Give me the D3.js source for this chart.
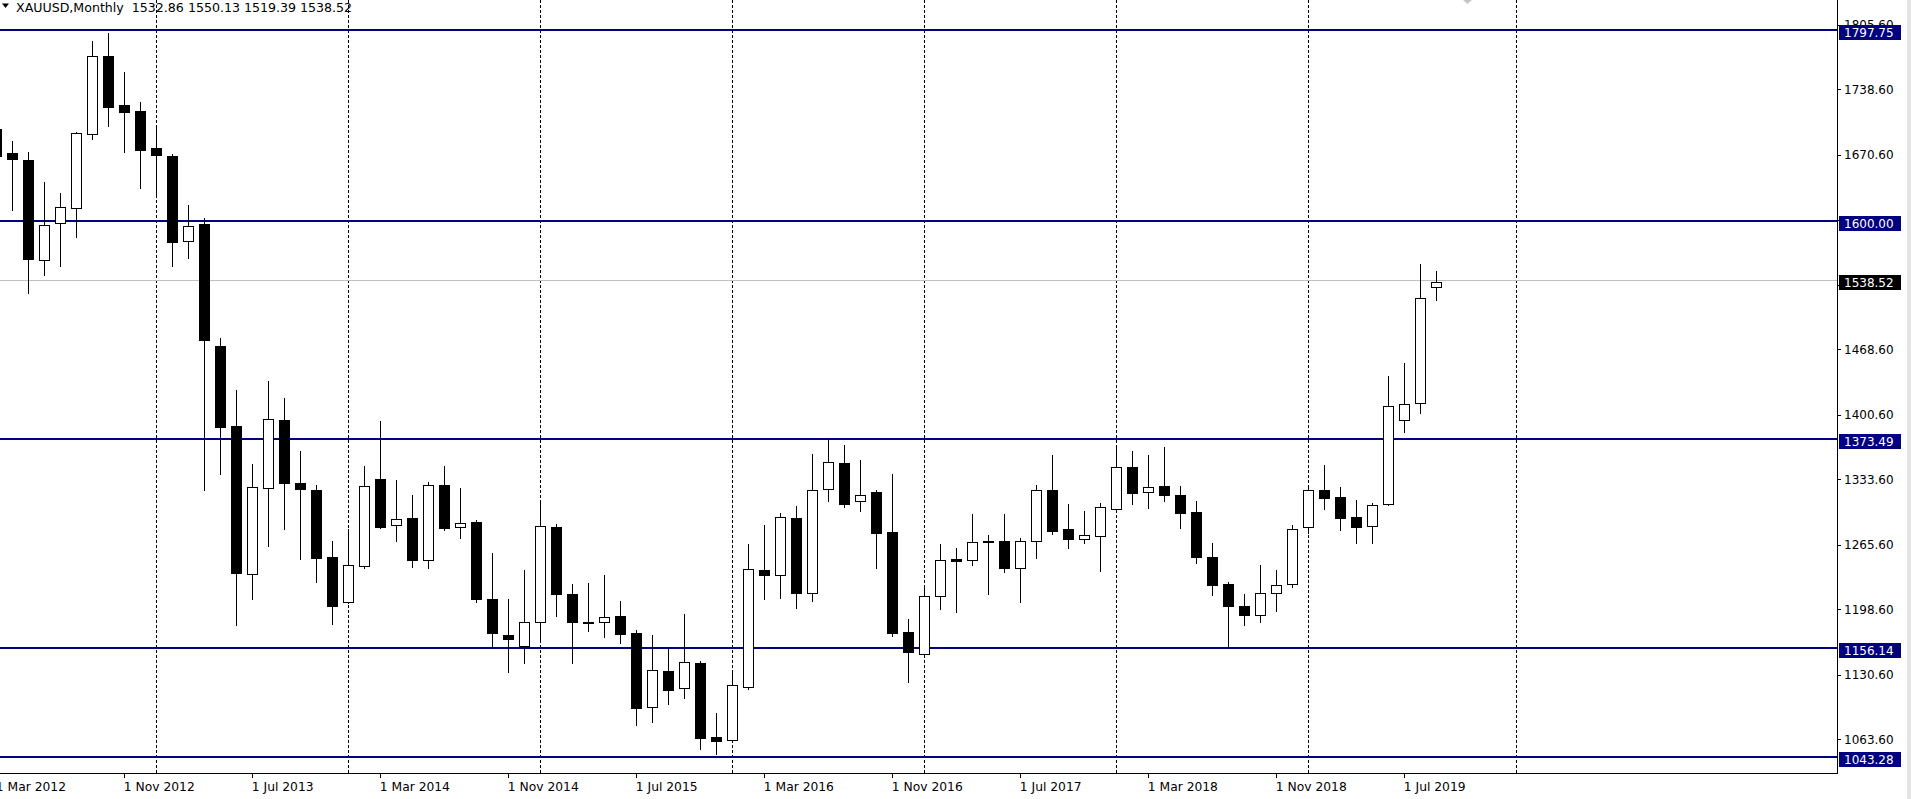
<!DOCTYPE html>
<html>
<head>
<meta charset="utf-8">
<script src="https://cdn.jsdelivr.net/npm/d3@7"></script>
<style>
  html, body { margin: 0; padding: 0; background: #ffffff; overflow: hidden; }
  svg { display: block; }
  text { font-family: "DejaVu Sans", Verdana, sans-serif; font-size: 12px; fill: #000; white-space: pre; }
</style>
</head>
<body>
<svg id="chart" width="1911" height="799"></svg>
<script>
// ---- DATA (XAUUSD monthly, Mar 2012 .. Sep 2019) ----
const symbolTitle = "XAUUSD,Monthly";
const startMonth = new Date(2012, 2, 1);
const open  = [1697,1672,1665,1561,1600,1615,1692,1773,1722,1716,1678,1669,1581,1599,1472,1389,1235,1325,1395,1330,
               1323,1253,1206,1244,1334,1286,1293,1250,1328,1284,1289,1209,1172,1160,1185,1284,1215,1185.5,1185,1192,
               1174,1097,1135,1117,1143,1066,1063,1118,1239,1234,1293,1216,1324,1351,1311,1320,1279,1175,1152,1212,
               1250.5,1250,1270,1270,1242,1270,1323,1282,1272,1275,1303,1346,1320,1327,1317,1300,1253,1225,1202,1193,
               1216,1225,1284,1322,1315,1294,1285,1308,1395,1413,1532.86];
const high  = [1715,1685,1673,1642,1631,1694,1789,1797,1757,1725,1699,1671,1618,1605,1480,1426,1350,1436,1418,1363,
               1328,1270,1282,1347,1394,1333,1317,1331,1347,1325,1291,1257,1209,1239,1309,1287,1225,1226,1234,1207,
               1177,1172,1157,1194,1145,1091,1132,1266,1286,1299,1306,1360,1375,1369,1354,1322,1339,1189,1221,1266,
               1262,1298,1276,1298,1273,1328,1359,1308,1301,1309,1369,1363,1359,1367,1327,1311,1267,1227,1215,1245,
               1239,1286,1327,1348,1326,1312,1309,1441,1454,1557,1550.13];
const low   = [1627,1613,1527,1546,1555,1585,1687,1700,1673,1636,1627,1555,1563,1322,1339,1182,1209,1264,1282,1251,
               1227,1183,1205,1242,1283,1270,1243,1242,1281,1273,1206,1160,1133,1143,1167,1192,1143,1176,1170,1164,
               1078,1082,1100,1106,1054,1048,1062,1116,1209,1210,1200,1207,1311,1305,1301,1242,1171,1123,1151,1199,
               1196,1245,1215,1237,1206,1252,1277,1262,1267,1238,1302,1308,1304,1311,1283,1247,1213,1161,1182,1185,
               1197,1222,1278,1303,1281,1267,1267,1307,1383,1402,1519.39];
const close = [1669,1666,1562,1598,1616,1693,1773,1720,1715,1676,1670,1580,1597,1478,1388,1236,1326,1396,1330,1324,
               1252,1202,1245,1327,1284,1292,1250,1328,1283,1288,1209,1174,1168,1185,1285,1214,1185,1184,1191,1173,
               1096,1136,1115,1144,1065,1062,1120,1240,1234,1294,1216,1323,1352,1308,1317,1278,1174,1154,1212,1250,
               1249,1269,1269,1242,1270,1322,1280,1272,1276,1305,1346,1319,1326,1317,1299,1253,1224,1202,1193,1216,
               1224,1282,1322,1314,1293,1284,1307,1410,1412,1522,1538.52];

const priceTicks = [1805.6,1738.6,1670.6,1602.6,1535.6,1468.6,1400.6,1333.6,1265.6,1198.6,1130.6,1063.6];
const levelLines = [1797.75, 1600.00, 1373.49, 1156.14, 1043.28];
const currentPrice = 1538.52;
const timeTickIdx    = [0, 8, 16, 24, 32, 40, 48, 56, 64, 72, 80, 88];
const timeTickLabels = ["1 Mar 2012","1 Nov 2012","1 Jul 2013","1 Mar 2014","1 Nov 2014","1 Jul 2015",
                        "1 Mar 2016","1 Nov 2016","1 Jul 2017","1 Mar 2018","1 Nov 2018","1 Jul 2019"];
const gridIdx = [10, 22, 34, 46, 58, 70, 82, 95];

// ---- LAYOUT ----
const W = 1911, H = 799;
const plotRight = 1837, plotBottom = 773;
const lineShift = -2; // terminal draws its horizontal lines slightly above the exact price
const svg = d3.select("#chart");

const months = d3.timeMonth.range(startMonth, d3.timeMonth.offset(startMonth, open.length));
const bars = months.map((d, i) => ({ date: d, i, o: open[i], h: high[i], l: low[i], c: close[i] }));

const x = d3.scaleLinear().domain([0, 95]).range([-3.7, 1516.3]);
const y = d3.scaleLinear().domain([1063.6, 1738.6]).range([739.3, 89.3]);

const plot = svg.append("g");
plot.append("defs").append("clipPath").attr("id", "clip")
  .append("rect").attr("x", 0).attr("y", 0).attr("width", plotRight).attr("height", plotBottom);
const inner = plot.append("g").attr("clip-path", "url(#clip)");

// dashed vertical grid
inner.selectAll("line.grid").data(gridIdx).join("line")
  .attr("class", "grid")
  .attr("x1", d => Math.round(x(d)) + 0.5).attr("x2", d => Math.round(x(d)) + 0.5)
  .attr("y1", 0).attr("y2", plotBottom)
  .attr("stroke", "#000").attr("stroke-width", 1).attr("stroke-dasharray", "3,2");

// current price line
inner.append("line")
  .attr("x1", 0).attr("x2", plotRight)
  .attr("y1", Math.round(y(currentPrice)) + lineShift + 0.5).attr("y2", Math.round(y(currentPrice)) + lineShift + 0.5)
  .attr("stroke", "#c0c0c0").attr("stroke-width", 1);

// horizontal levels
inner.selectAll("line.level").data(levelLines).join("line")
  .attr("class", "level")
  .attr("x1", 0).attr("x2", plotRight)
  .attr("y1", d => Math.round(y(d)) + lineShift).attr("y2", d => Math.round(y(d)) + lineShift)
  .attr("stroke", "#000080").attr("stroke-width", 2);

// candles
const cg = inner.selectAll("g.candle").data(bars).join("g").attr("class", "candle");
cg.append("line")
  .attr("x1", d => Math.round(x(d.i)) + 0.5).attr("x2", d => Math.round(x(d.i)) + 0.5)
  .attr("y1", d => Math.round(y(d.h))).attr("y2", d => Math.round(y(d.l)) + 1)
  .attr("stroke", "#000").attr("stroke-width", 1);
cg.each(function(d) {
  const g = d3.select(this);
  const cx = Math.round(x(d.i));
  const yt = Math.round(y(Math.max(d.o, d.c)));
  const yb = Math.round(y(Math.min(d.o, d.c)));
  if (d.c >= d.o) {
    g.append("rect")
      .attr("x", cx - 4.5).attr("y", yt + 0.5)
      .attr("width", 10).attr("height", Math.max(1, yb - yt))
      .attr("fill", "#fff").attr("stroke", "#000").attr("stroke-width", 1);
  } else {
    g.append("rect")
      .attr("x", cx - 5).attr("y", yt)
      .attr("width", 11).attr("height", Math.max(2, yb - yt + 1))
      .attr("fill", "#000");
  }
});

// shift marker
svg.append("path")
  .attr("d", "M1463,0 L1472,0 L1467.5,4 Z")
  .attr("fill", "#c4c4c4");

// frame / axes lines
svg.append("line").attr("x1", plotRight + 0.5).attr("x2", plotRight + 0.5)
  .attr("y1", 0).attr("y2", plotBottom + 1).attr("stroke", "#000");
svg.append("line").attr("x1", 0).attr("x2", plotRight + 1)
  .attr("y1", plotBottom + 0.5).attr("y2", plotBottom + 0.5).attr("stroke", "#000");

// right price axis
const pa = svg.append("g");
pa.selectAll("line").data(priceTicks).join("line")
  .attr("x1", plotRight + 1).attr("x2", plotRight + 4)
  .attr("y1", d => Math.round(y(d)) + 0.5).attr("y2", d => Math.round(y(d)) + 0.5)
  .attr("stroke", "#000");
pa.selectAll("text").data(priceTicks).join("text")
  .attr("x", 1844).attr("y", d => y(d) + 4.5)
  .text(d => d.toFixed(2));

// level labels
const lbl = svg.append("g");
const boxes = levelLines.map(v => ({ v, bg: "#000080" })).concat([{ v: currentPrice, bg: "#000000" }]);
lbl.selectAll("rect").data(boxes).join("rect")
  .attr("x", 1839).attr("y", d => Math.round(y(d.v)) - 7)
  .attr("width", 62).attr("height", 15).attr("fill", d => d.bg);
lbl.selectAll("text").data(boxes).join("text")
  .attr("x", 1844).attr("y", d => Math.round(y(d.v)) + 5)
  .style("fill", "#fff")
  .text(d => d.v.toFixed(2));

// bottom time axis
const ta = svg.append("g");
ta.selectAll("line").data(timeTickIdx).join("line")
  .attr("x1", d => Math.round(x(d)) + 0.5).attr("x2", d => Math.round(x(d)) + 0.5)
  .attr("y1", plotBottom + 1).attr("y2", plotBottom + 5)
  .attr("stroke", "#000");
ta.selectAll("text").data(timeTickIdx).join("text")
  .attr("x", d => x(d) - 0.5).attr("y", 791)
  .style("font-size", "12.3px")
  .text((d, k) => timeTickLabels[k]);

// right edge strip
svg.append("rect").attr("x", 1907).attr("y", 0).attr("width", 4).attr("height", H).attr("fill", "#e4e4e4");

// header
svg.append("path").attr("d", "M2,3.5 L9,3.5 L5.5,8 Z").attr("fill", "#000");
const last = bars[bars.length - 1];
svg.append("text").attr("x", 16).attr("y", 12)
  .style("font-size", "12.6px")
  .text(symbolTitle + "  " + [last.o, last.h, last.l, last.c].map(v => v.toFixed(2)).join(" "));
</script>
</body>
</html>
